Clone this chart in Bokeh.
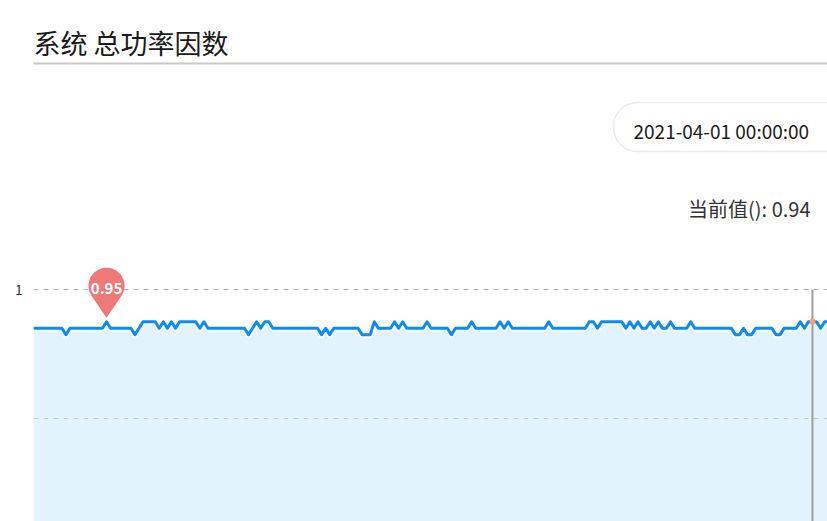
import numpy as np
import pandas as pd
from bokeh.plotting import figure
from bokeh.models import Range1d, FixedTicker, Label, BoxAnnotation
from bokeh.embed import file_html
from bokeh.resources import INLINE

# ## 系统 总功率因数 - hourly power factor

title_text = "系统 总功率因数"
picked_time = "2021-04-01 00:00:00"
current_text = "当前值(): 0.94"

# hourly values
pf_values = [
    0.94, 0.94, 0.94, 0.94, 0.94, 0.94, 0.94, 0.94, 0.93, 0.94,
    0.94, 0.94, 0.94, 0.94, 0.94, 0.94, 0.94, 0.94, 0.95, 0.94,
    0.94, 0.94, 0.94, 0.94, 0.94, 0.93, 0.94, 0.95, 0.95, 0.95,
    0.95, 0.94, 0.95, 0.94, 0.95, 0.94, 0.95, 0.95, 0.95, 0.95,
    0.95, 0.94, 0.95, 0.94, 0.94, 0.94, 0.94, 0.94, 0.94, 0.94,
    0.94, 0.94, 0.94, 0.93, 0.94, 0.95, 0.94, 0.95, 0.95, 0.94,
    0.94, 0.94, 0.94, 0.94, 0.94, 0.94, 0.94, 0.94, 0.94, 0.94,
    0.94, 0.93, 0.94, 0.93, 0.94, 0.94, 0.94, 0.94, 0.94, 0.94,
    0.94, 0.93, 0.93, 0.93, 0.95, 0.94, 0.94, 0.94, 0.94, 0.95,
    0.94, 0.95, 0.94, 0.94, 0.94, 0.94, 0.94, 0.95, 0.94, 0.94,
    0.94, 0.94, 0.94, 0.93, 0.94, 0.94, 0.94, 0.94, 0.95, 0.94,
    0.94, 0.94, 0.94, 0.94, 0.94, 0.95, 0.94, 0.95, 0.94, 0.94,
    0.94, 0.94, 0.94, 0.94, 0.94, 0.94, 0.94, 0.95, 0.94, 0.94,
    0.94, 0.94, 0.94, 0.94, 0.94, 0.94, 0.94, 0.95, 0.95, 0.94,
    0.95, 0.95, 0.95, 0.95, 0.95, 0.95, 0.94, 0.95, 0.94, 0.95,
    0.94, 0.94, 0.95, 0.94, 0.95, 0.94, 0.94, 0.95, 0.94, 0.94,
    0.94, 0.94, 0.95, 0.94, 0.94, 0.94, 0.94, 0.94, 0.94, 0.94,
    0.94, 0.94, 0.94, 0.93, 0.93, 0.94, 0.93, 0.93, 0.94, 0.94,
    0.94, 0.94, 0.94, 0.93, 0.93, 0.94, 0.94, 0.94, 0.94, 0.95,
    0.94, 0.95, 0.95, 0.95, 0.94, 0.95, 0.95,
]
times = pd.date_range("2021-03-24 00:00", periods=len(pf_values), freq="h")
y_ticks = [1.0]
y_grid = [0.8, 1.0]

xs = np.arange(len(pf_values))
cursor_i = times.get_loc(pd.Timestamp(picked_time))
max_i = int(np.argmax(pf_values))
max_v = pf_values[max_i]

W, H = 827, 521
left = 33
x_range = Range1d(0, 195.7)
y_range = Range1d(0.6403, 1.4481)
px_x = (W - left) / (x_range.end - x_range.start)
px_y = H / (y_range.end - y_range.start)

p = figure(width=W, height=H, x_range=x_range, y_range=y_range,
           output_backend="svg", toolbar_location=None, x_axis_location=None,
           min_border_left=left, min_border_right=0, min_border_top=0, min_border_bottom=0)
p.outline_line_color = None
p.background_fill_color = "white"
p.border_fill_color = "white"

p.xgrid.visible = False
p.ygrid.ticker = FixedTicker(ticks=y_grid)
p.ygrid.grid_line_color = "#b2b2b2"
p.ygrid.grid_line_dash = "5 5"
p.ygrid.grid_line_width = 1

p.yaxis.ticker = FixedTicker(ticks=y_ticks)
p.yaxis.major_label_overrides = {1.0: "1"}
p.yaxis.axis_line_color = None
p.yaxis.major_tick_line_color = None
p.yaxis.minor_tick_line_color = None
p.yaxis.major_tick_out = 0
p.yaxis.major_label_standoff = 11
p.yaxis.major_label_text_font_size = "13px"
p.yaxis.major_label_text_color = "#222222"
p.yaxis.major_label_text_font = "Noto Sans CJK SC"

# area + line
p.varea(x=xs, y1=y_range.start, y2=pf_values, fill_color="#c8e8fb", fill_alpha=0.5)
p.line(xs, pf_values, line_color="white", line_width=7, line_alpha=0.7, line_join="round")
p.line(xs, pf_values, line_color="#0a8cf0", line_width=3, line_join="round")

# cursor at the picked time
p.segment(x0=cursor_i, y0=max(y_grid), x1=cursor_i, y1=y_range.start,
          line_color="#9e9e9e", line_width=2)
p.scatter([cursor_i], [pf_values[cursor_i]], size=6, fill_color="#f6a26a", line_color=None)

# pin marker on the max value
r, cy, tip = 18, 36, 4
th = np.degrees(np.arccos(r / (cy - tip)))
ang = np.radians(np.linspace(-90 + th, 270 - th, 60))
pin_dx = list(r * np.cos(ang)) + [0]
pin_dy = list(cy + r * np.sin(ang)) + [tip]
p.patch([max_i + d / px_x for d in pin_dx], [max_v + d / px_y for d in pin_dy],
        fill_color="#ec6060", fill_alpha=0.85, line_color=None)
p.add_layout(Label(x=max_i, y=max_v + 33 / px_y, text=f"{max_v:.2f}",
                   text_align="center", text_baseline="middle", text_color="white",
                   text_font="Noto Sans CJK SC", text_font_style="bold",
                   text_font_size="15px"))

# header
p.add_layout(Label(x=0, y=479, x_units="screen", y_units="screen", text=title_text,
                   text_font="Noto Sans CJK SC", text_font_size="27px",
                   text_baseline="middle", text_color="#1a1a1a"))
p.add_layout(BoxAnnotation(left=-40, right=820, top=459, bottom=457,
                           left_units="screen", right_units="screen",
                           top_units="screen", bottom_units="screen",
                           fill_color="#c8c8c8", fill_alpha=1, line_color=None))
p.add_layout(BoxAnnotation(left=580, right=900, top=419, bottom=370,
                           left_units="screen", right_units="screen",
                           top_units="screen", bottom_units="screen",
                           fill_color="white", fill_alpha=1, line_color="#ebebeb",
                           line_alpha=1, line_width=1.5, border_radius=24))
p.add_layout(Label(x=600, y=391, x_units="screen", y_units="screen", text=picked_time,
                   text_font="Noto Sans CJK SC", text_font_size="19px",
                   text_baseline="middle", text_color="#1a1a1a"))
p.add_layout(Label(x=777, y=313, x_units="screen", y_units="screen", text=current_text,
                   text_font="Noto Sans CJK SC", text_font_size="20px", text_align="right",
                   text_baseline="middle", text_color="#333333"))

open("out.html", "w").write(file_html(p, INLINE))
